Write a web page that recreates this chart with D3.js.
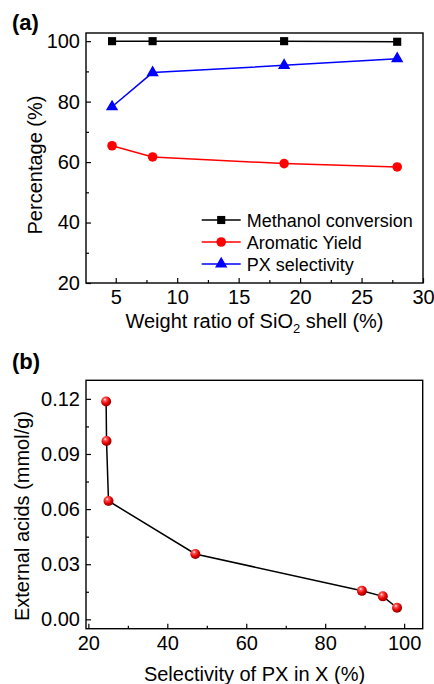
<!DOCTYPE html>
<html lang="en">
  <head>
    <title>Shell ratio and PX selectivity</title>
    <meta charset="utf-8" />
    <script src="https://cdn.jsdelivr.net/npm/d3@7"></script>
    <style>
      body { margin: 0; background: #fff; }
    </style>
  </head>
  <body>
    <svg id="chart" width="434" height="684" viewBox="0 0 434 684"></svg>
    <script>
      // panel (a) data
      const shellRatio = [4.7, 8.0, 18.7, 27.9];
      const methanolConv = [100, 100, 100, 99.8];
      const aromaticYield = [65.4, 61.7, 59.5, 58.4];
      const pxSelectivity = [78.3, 89.6, 92.0, 94.2];
      const xTicksA = [5, 10, 15, 20, 25, 30];
      const yTicksA = [20, 40, 60, 80, 100];

      // panel (b) data
      const pxInX = [24.5, 24.6, 25.1, 47.1, 89.3, 94.6, 98.2];
      const externalAcids = [0.1186, 0.0971, 0.0644, 0.0356, 0.0155, 0.0125, 0.0063];
      const xTicksB = [20, 40, 60, 80, 100];
      const yTicksB = [0, 0.03, 0.06, 0.09, 0.12];

      const font = "'Liberation Sans', Arial, sans-serif";
      const fs = "20px";

      const svg = d3.select("#chart").attr("font-family", font);

      // sphere look for the red balls in (b)
      const grad = svg.append("defs").append("radialGradient")
        .attr("id", "ball").attr("cx", "38%").attr("cy", "32%").attr("r", "65%");
      grad.append("stop").attr("offset", "0%").attr("stop-color", "#ffffff");
      grad.append("stop").attr("offset", "22%").attr("stop-color", "#ff5a5a");
      grad.append("stop").attr("offset", "65%").attr("stop-color", "#e60000");
      grad.append("stop").attr("offset", "100%").attr("stop-color", "#9a0000");

      function frame(g, x, y, xTicks, yTicks, xMinor, yMinor, yFmt) {
        const [x0, x1] = x.range();
        const [y0, y1] = y.range();
        g.append("g").attr("transform", `translate(0,${y0})`)
          .call(d3.axisBottom(x).tickValues(xTicks).tickSize(-5).tickPadding(7));
        g.append("g").attr("transform", `translate(0,${y0})`)
          .call(d3.axisBottom(x).tickValues(xMinor).tickSize(-3).tickFormat(""));
        g.append("g").attr("transform", `translate(${x0},0)`)
          .call(d3.axisLeft(y).tickValues(yTicks).tickSize(-5).tickPadding(6).tickFormat(yFmt));
        g.append("g").attr("transform", `translate(${x0},0)`)
          .call(d3.axisLeft(y).tickValues(yMinor).tickSize(-3).tickFormat(""));
        g.selectAll(".domain").remove();
        g.selectAll(".tick line").attr("stroke", "#000").attr("stroke-width", 1.2);
        g.selectAll(".tick text").attr("font-family", font).attr("font-size", fs).attr("fill", "#000");
        g.append("rect")
          .attr("x", x0).attr("y", y1)
          .attr("width", x1 - x0).attr("height", y0 - y1)
          .attr("fill", "none").attr("stroke", "#000").attr("stroke-width", 1.4);
      }

      // ---------- panel (a)
      const gA = svg.append("g");
      const xA = d3.scaleLinear().domain([2.58, 30]).range([86, 423]);
      const yA = d3.scaleLinear().domain([20, 102.7]).range([283, 33]);

      frame(gA, xA, yA, xTicksA, yTicksA,
        [7.5, 12.5, 17.5, 22.5, 27.5], [30, 50, 70, 90], d3.format("d"));

      const seriesA = [
        { name: "Methanol conversion", values: methanolConv, color: "#000000", shape: d3.symbolSquare, size: 66 },
        { name: "Aromatic Yield", values: aromaticYield, color: "#ff0000", shape: d3.symbolCircle, size: 72 },
        { name: "PX selectivity", values: pxSelectivity, color: "#0000ff", shape: d3.symbolTriangle, size: 66 }
      ];

      const lineA = d3.line().x((d, i) => xA(shellRatio[i])).y(d => yA(d));

      seriesA.forEach(s => {
        gA.append("path")
          .attr("d", lineA(s.values))
          .attr("fill", "none")
          .attr("stroke", s.color)
          .attr("stroke-width", 1.5);
        gA.selectAll(null)
          .data(s.values)
          .enter()
          .append("path")
          .attr("transform", (d, i) => `translate(${xA(shellRatio[i])},${yA(d)})`)
          .attr("d", d3.symbol().type(s.shape).size(s.size))
          .attr("fill", s.color);
      });

      const legend = gA.append("g").attr("transform", "translate(201.7,220)");
      legend.selectAll(".legend-item")
        .data(seriesA)
        .enter()
        .append("g")
        .attr("class", "legend-item")
        .attr("transform", (d, i) => `translate(0,${i * 22})`)
        .call(g => {
          g.append("line")
            .attr("x1", 0).attr("x2", 39)
            .attr("stroke", d => d.color).attr("stroke-width", 1.5);
          g.append("path")
            .attr("transform", "translate(19.5,0)")
            .attr("d", d => d3.symbol().type(d.shape).size(d.size)())
            .attr("fill", d => d.color);
          g.append("text")
            .attr("x", 45).attr("y", 6.5)
            .attr("font-size", "18px")
            .text(d => d.name);
        });

      svg.append("text")
        .attr("x", 12).attr("y", 30)
        .attr("font-size", "22px").attr("font-weight", "bold")
        .text("(a)");

      const xTitleA = svg.append("text")
        .attr("x", 254.5).attr("y", 328)
        .attr("text-anchor", "middle")
        .attr("font-size", fs);
      xTitleA.append("tspan").text("Weight ratio of SiO");
      xTitleA.append("tspan").attr("font-size", "13px").attr("dy", 5).text("2");
      xTitleA.append("tspan").attr("dy", -5).text(" shell (%)");

      svg.append("text")
        .attr("transform", "translate(42,165) rotate(-90)")
        .attr("text-anchor", "middle")
        .attr("font-size", fs)
        .text("Percentage (%)");

      // ---------- panel (b)
      const gB = svg.append("g");
      const xB = d3.scaleLinear().domain([19.4, 104.7]).range([86, 422.7]);
      const yB = d3.scaleLinear().domain([-0.0051, 0.1301]).range([628.7, 380.3]);

      frame(gB, xB, yB, xTicksB, yTicksB,
        [30, 50, 70, 90], [0.015, 0.045, 0.075, 0.105], d3.format(".2f"));

      const ptsB = pxInX.map((x, i) => [x, externalAcids[i]]);

      gB.append("path")
        .attr("d", d3.line().x(d => xB(d[0])).y(d => yB(d[1]))(ptsB))
        .attr("fill", "none")
        .attr("stroke", "#000")
        .attr("stroke-width", 1.5);

      gB.selectAll(".ball")
        .data(ptsB)
        .enter()
        .append("circle")
        .attr("class", "ball")
        .attr("cx", d => xB(d[0]))
        .attr("cy", d => yB(d[1]))
        .attr("r", 5)
        .attr("fill", "url(#ball)");

      svg.append("text")
        .attr("x", 12).attr("y", 369)
        .attr("font-size", "22px").attr("font-weight", "bold")
        .text("(b)");

      svg.append("text")
        .attr("x", 254.5).attr("y", 681)
        .attr("text-anchor", "middle")
        .attr("font-size", fs)
        .text("Selectivity of PX in X (%)");

      svg.append("text")
        .attr("transform", "translate(29,516) rotate(-90)")
        .attr("text-anchor", "middle")
        .attr("font-size", fs)
        .text("External acids (mmol/g)");
    </script>
  </body>
</html>
